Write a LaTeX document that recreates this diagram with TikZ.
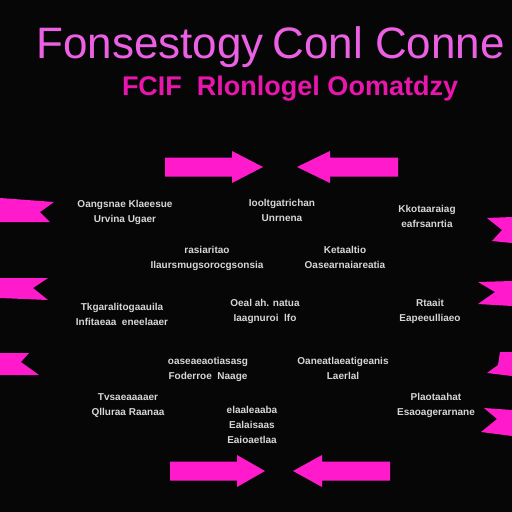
\documentclass[tikz,border=0pt]{standalone}
\usepackage{fontspec}
\setmainfont{Liberation Sans}
\definecolor{mypink}{RGB}{236,96,228}
\definecolor{mymagenta}{RGB}{232,22,172}
\definecolor{myarrow}{RGB}{255,26,204}
\definecolor{mygrey}{RGB}{214,214,214}
\definecolor{myblack}{RGB}{6,6,6}
\tikzset{blurb/.style={text=mygrey,font=\fontsize{10}{15}\selectfont\bfseries,align=center,inner sep=0pt}}

\begin{document}
\begin{tikzpicture}[x=1pt,y=-1pt]
\def\sh{9.5}
\def\hh{16}
  \fill[myblack] (0,0) rectangle (512,512);
  \useasboundingbox (0,0) rectangle (512,512);
  \clip (0,0) rectangle (512,512);
  \node[anchor=base west,text=mypink,font=\fontsize{44}{44}\selectfont,inner sep=0pt] (title) at (36,58) {Fonsestogy\hspace{9pt}Conl\hspace{12pt}Conne};
  \node[text=mymagenta,font=\fontsize{27}{27}\selectfont\bfseries,inner sep=0pt] (subtitle) at (290,89) {FCIF\ \ Rlonlogel Oomatdzy};
  \foreach \xa/\xb/\xc/\y in {165/232/263/167,398/330/297/167,170/237/265/471,390/322/293/471}
    {
     \fill[myarrow] (\xa,\y-\sh) -- (\xb,\y-\sh) -- (\xb,\y-\hh) -- (\xc,\y) -- (\xb,\y+\hh) -- (\xb,\y+\sh) -- (\xa,\y+\sh) -- cycle;
    }
  \fill[myarrow] (0,198) -- (54,202) -- (40,212) -- (50,222) -- (0,222) -- cycle;
  \fill[myarrow] (0,278) -- (48,278) -- (33,288) -- (48,300) -- (0,298) -- cycle;
  \fill[myarrow] (0,353) -- (29,353) -- (21,362) -- (39,375) -- (0,375) -- cycle;
  \fill[myarrow] (512,217) -- (487,218) -- (502,230) -- (492,241) -- (512,243) -- cycle;
  \fill[myarrow] (512,281) -- (478,282) -- (495,292) -- (478,304) -- (512,306) -- cycle;
  \fill[myarrow] (512,352) -- (500,352) -- (498,365) -- (487,373) -- (512,376) -- cycle;
  \fill[myarrow] (512,410) -- (484,408) -- (497,419) -- (481,432) -- (512,436) -- cycle;
  \node[blurb] (t1)  at (125,212) {Oangsnae Klaeesue\\Urvina Ugaer};
  \node[blurb] (t2)  at (282,210) {Iooltgatrichan\\Unrnena};
  \node[blurb] (t3)  at (427,216) {Kkotaaraiag\\eafrsanrtia};
  \node[blurb] (t4)  at (207,258) {rasiaritao\\Ilaursmugsorocgsonsia};
  \node[blurb] (t5)  at (345,257) {Ketaaltio\\Oasearnaiareatia};
  \node[blurb] (t6)  at (122,314) {Tkgaralitogaauila\\Infitaeaa\ \ eneelaaer};
  \node[blurb] (t7)  at (265,311) {Oeal ah. natua\\Iaagnuroi\ \ lfo};
  \node[blurb] (t8)  at (430,311) {Rtaait\\Eapeeulliaeo};
  \node[blurb] (t9)  at (208,369) {oaseaeaotiasasg\\Foderroe\ \ Naage};
  \node[blurb] (t10) at (343,368) {Oaneatlaeatigeanis\\Laerlal};
  \node[blurb] (t11) at (128,406) {Tvsaeaaaaer\\Qlluraa\ Raanaa};
  \node[blurb] (t12) at (436,405) {Plaotaahat\\Esaoagerarnane};
  \node[blurb] (t13) at (252,425) {elaaleaaba\\Ealaisaas\\Eaioaetlaa};
\end{tikzpicture}
\end{document}
